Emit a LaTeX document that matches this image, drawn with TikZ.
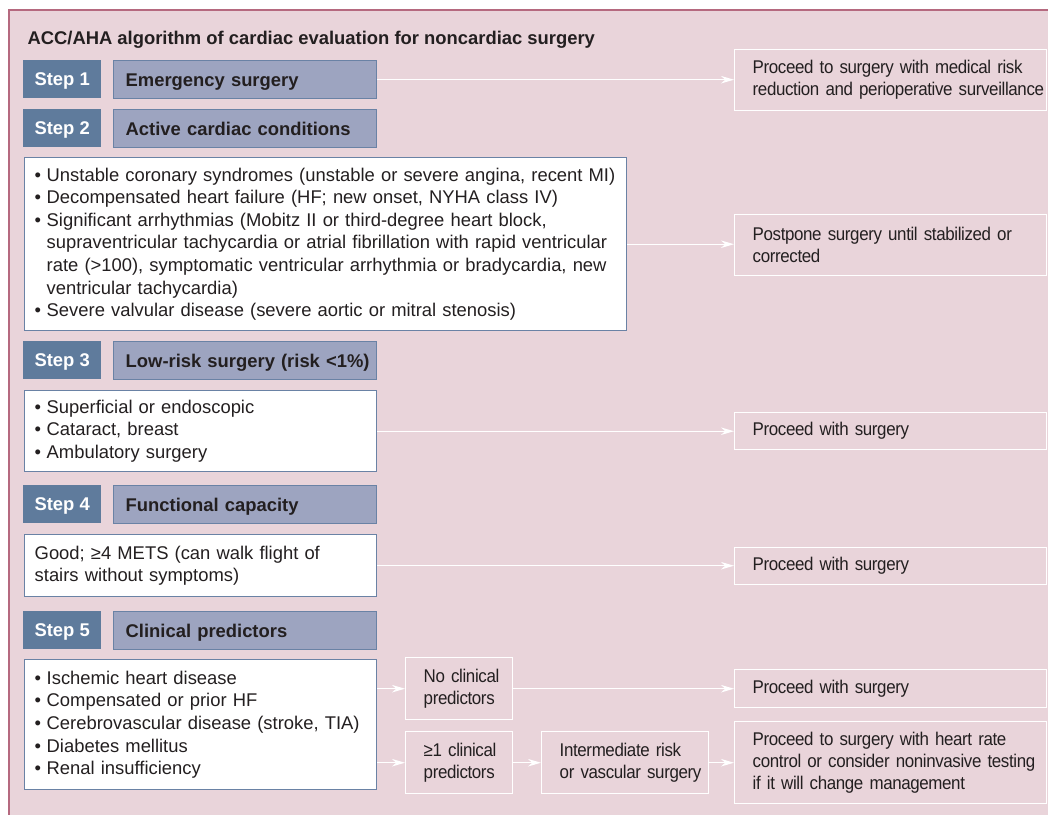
\documentclass[tikz,border=0pt]{standalone}
\usepackage{fontspec}
\setmainfont{Liberation Sans}
\newfontfamily\condfont{Liberation Sans}[FakeStretch=0.92, LetterSpace=-2.0]
\usetikzlibrary{positioning,arrows.meta}
\definecolor{PinkBack}{HTML}{E9D4DA}
\definecolor{FrameRose}{HTML}{B5697F}
\definecolor{StepBlue}{HTML}{5F7B9C}
\definecolor{HeadLilac}{HTML}{9DA4C0}
\definecolor{EdgeBlue}{HTML}{6A82A5}
\definecolor{InkDark}{HTML}{231F20}
\newcommand{\bodysize}{\fontsize{18.4}{22.6}\selectfont}
\newcommand{\ressize}{\condfont\fontsize{18.4}{22}\selectfont}
\newcommand{\bitem}[1]{\noindent\hangindent=12pt\hangafter=1\makebox[12pt][l]{\textbullet}#1\par}

\begin{document}
\begin{tikzpicture}[x=1pt, y=-1pt,
    every node/.style={text=InkDark},
    stepbox/.style={fill=StepBlue, text=white, font=\bodysize\bfseries,
      minimum width=78pt, minimum height=38pt, inner sep=0pt, text depth=0pt,
      anchor=north west},
    headbox/.style={draw=EdgeBlue, fill=HeadLilac, line width=1.4pt,
      font=\bodysize\bfseries, minimum height=38pt, text width=263pt, text depth=0pt,
      inner xsep=0pt, align=left, anchor=north west,
      execute at begin node={\leftskip=12pt}},
    listbox/.style 2 args={draw=EdgeBlue, fill=white, line width=1.4pt,
      font=\bodysize, text width=#1, minimum height=#2,
      inner xsep=0pt, align=left, anchor=north west,
      execute at begin node={\leftskip=10pt}},
    resbox/.style 2 args={draw=white, line width=1.4pt,
      font=\ressize, text width=#1, minimum height=#2,
      inner xsep=0pt, align=left, anchor=north west,
      execute at begin node={\leftskip=18pt\hyphenpenalty=10000}},
    flow/.style={draw=white, line width=1.3pt, -{Stealth[length=13pt,width=7.5pt]}}]
  \useasboundingbox (0,0) rectangle (1048,815);
  \fill[white] (0,0) rectangle (1048,815);
  \fill[PinkBack] (9,10) rectangle (1048,815);
  \draw[FrameRose, line width=2pt] (1048,10) -- (9,10) -- (9,815);

  \node[anchor=base west, font=\bodysize\bfseries] (title) at (24,44)
    {ACC/AHA algorithm of cardiac evaluation for noncardiac surgery};

  % steps and their headings
  \node[stepbox] (st1) at (23,60) {Step 1};
  \node[headbox] (hd1) at (113,60) {Emergency surgery};
  \node[stepbox] (st2) at (23,109) {Step 2};
  \node[headbox] (hd2) at (113,109) {Active cardiac conditions};
  \node[stepbox] (st3) at (23,341) {Step 3};
  \node[headbox] (hd3) at (113,341) {Low-risk surgery (risk <1\%)};
  \node[stepbox] (st4) at (23,485) {Step 4};
  \node[headbox] (hd4) at (113,485) {Functional capacity};
  \node[stepbox] (st5) at (23,611) {Step 5};
  \node[headbox] (hd5) at (113,611) {Clinical predictors};

  % lists
  \node[listbox={602pt}{173pt}] (ls2) at (24,157) {%
    \bitem{Unstable coronary syndromes (unstable or severe angina, recent MI)}
    \bitem{Decompensated heart failure (HF; new onset, NYHA class IV)}
    \bitem{Significant arrhythmias (Mobitz II or third-degree heart block,\newline
      supraventricular tachycardia or atrial fibrillation with rapid ventricular\newline
      rate (>100), symptomatic ventricular arrhythmia or bradycardia, new\newline
      ventricular tachycardia)}
    \bitem{Severe valvular disease (severe aortic or mitral stenosis)}};
  \node[listbox={352pt}{81pt}] (ls3) at (24,390) {%
    \bitem{Superficial or endoscopic}
    \bitem{Cataract, breast}
    \bitem{Ambulatory surgery}};
  \node[listbox={352pt}{62pt}] (ls4) at (24,534) {%
    Good; ≥4 METS (can walk flight of\\ stairs without symptoms)};
  \node[listbox={352pt}{130pt}] (ls5) at (24,659) {%
    \bitem{Ischemic heart disease}
    \bitem{Compensated or prior HF}
    \bitem{Cerebrovascular disease (stroke, TIA)}
    \bitem{Diabetes mellitus}
    \bitem{Renal insufficiency}};

  % outcomes
  \node[resbox={312pt}{61pt}] (rs1) at (734,49)
    {Proceed to surgery with medical risk\\ reduction and perioperative surveillance};
  \node[resbox={312pt}{61pt}] (rs2) at (734,214)
    {Postpone surgery until stabilized or\\ corrected};
  \node[resbox={312pt}{37pt}] (rs3) at (734,412) {Proceed with surgery};
  \node[resbox={312pt}{37pt}] (rs4) at (734,547) {Proceed with surgery};
  \node[resbox={312pt}{38pt}] (rs5) at (734,669) {Proceed with surgery};
  \node[resbox={312pt}{82pt}] (rs6) at (734,721)
    {Proceed to surgery with heart rate\\ control or consider noninvasive testing\\ if it will change management};
  \node[resbox={107pt}{62pt}] (nocp) at (405,657) {No clinical\\ predictors};
  \node[resbox={107pt}{62pt}] (onecp) at (405,731) {≥1 clinical\\ predictors};
  \node[resbox={167pt}{62pt}] (inter) at (541,731) {Intermediate risk\\ or vascular surgery};

  % connectors
  \draw[flow] (hd1.east) -- (hd1.east -| rs1.west);
  \draw[flow] (ls2.east) -- (ls2.east -| rs2.west);
  \draw[flow] (ls3.east) -- (ls3.east -| rs3.west);
  \draw[flow] (ls4.east) -- (ls4.east -| rs4.west);
  \draw[flow] (ls5.east |- nocp.west) -- (nocp.west);
  \draw[flow] (ls5.east |- onecp.west) -- (onecp.west);
  \draw[flow] (nocp.east) -- (nocp.east -| rs5.west);
  \draw[flow] (onecp.east) -- (inter.west);
  \draw[flow] (inter.east) -- (inter.east -| rs6.west);
\end{tikzpicture}
\end{document}
